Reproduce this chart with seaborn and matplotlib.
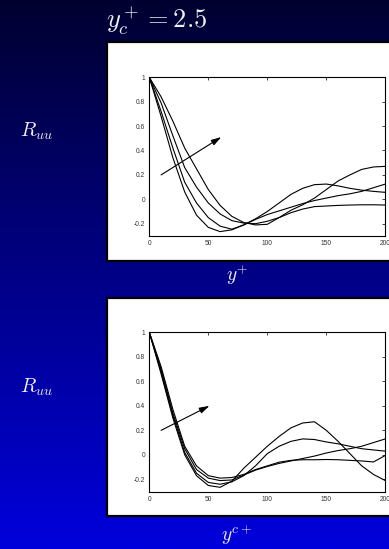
import numpy as np
import pandas as pd
import matplotlib
matplotlib.use("Agg")
import matplotlib.pyplot as plt
from matplotlib.patches import Rectangle
import seaborn as sns

sns.set_theme(style="white")
plt.rcParams["mathtext.fontset"] = "cm"
plt.rcParams["font.family"] = ["Liberation Sans", "DejaVu Sans"]

# separation in wall units
y_sep = [0, 10, 20, 30, 40, 50, 60, 70, 80, 90, 100,
         110, 120, 130, 140, 150, 160, 170, 180, 190, 200]

# R_uu versus y+ (four reference heights, arrow = increasing height)
ruu_yp_1 = [1.0, 0.68, 0.34, 0.06, -0.13, -0.23, -0.265, -0.25, -0.21, -0.16, -0.10,
            -0.03, 0.04, 0.09, 0.12, 0.125, 0.11, 0.09, 0.075, 0.065, 0.057]
ruu_yp_2 = [1.0, 0.72, 0.42, 0.14, -0.03, -0.15, -0.22, -0.245, -0.21, -0.165, -0.125,
            -0.095, -0.065, -0.035, -0.01, 0.01, 0.03, 0.045, 0.065, 0.095, 0.125]
ruu_yp_3 = [1.0, 0.79, 0.52, 0.26, 0.10, -0.03, -0.12, -0.175, -0.195, -0.20, -0.18,
            -0.15, -0.11, -0.08, -0.06, -0.055, -0.05, -0.047, -0.045, -0.045, -0.047]
ruu_yp_4 = [1.0, 0.84, 0.64, 0.42, 0.25, 0.08, -0.05, -0.14, -0.19, -0.21, -0.205,
            -0.15, -0.09, -0.045, 0.01, 0.08, 0.15, 0.20, 0.245, 0.265, 0.27]

# R_uu versus y^{c+}
ruu_yc_1 = [1.0, 0.66, 0.30, 0.0, -0.17, -0.25, -0.265, -0.215, -0.11, -0.02, 0.07,
            0.15, 0.22, 0.26, 0.27, 0.20, 0.11, 0.01, -0.09, -0.16, -0.21]
ruu_yc_2 = [1.0, 0.68, 0.32, 0.02, -0.15, -0.225, -0.24, -0.22, -0.17, -0.09, 0.01,
            0.07, 0.11, 0.13, 0.125, 0.105, 0.09, 0.07, 0.05, 0.04, 0.03]
ruu_yc_3 = [1.0, 0.70, 0.34, 0.05, -0.12, -0.19, -0.21, -0.205, -0.165, -0.125, -0.095,
            -0.07, -0.05, -0.03, -0.01, 0.015, 0.035, 0.05, 0.07, 0.10, 0.13]
ruu_yc_4 = [1.0, 0.72, 0.37, 0.07, -0.09, -0.17, -0.19, -0.185, -0.16, -0.12, -0.09,
            -0.06, -0.045, -0.04, -0.04, -0.038, -0.04, -0.045, -0.05, -0.058, -0.005]

x_ticks = [0, 50, 100, 150, 200]
y_ticks = [-0.2, 0, 0.2, 0.4, 0.6, 0.8, 1]
y_tick_labels = ["-0.2", "0", "0.2", "0.4", "0.6", "0.8", "1"]

title_text = r"$y_c^+ = 2.5$"
ylabel_text = r"$R_{uu}$"
xlabel_top = r"$y^{+}$"
xlabel_bottom = r"$y^{c+}$"

W, H = 389, 549
fig = plt.figure(figsize=(W / 100, H / 100), dpi=100)

# slide background: vertical navy-to-blue gradient
bg = fig.add_axes([0, 0, 1, 1], zorder=-10)
t = np.linspace(0, 1, 256)[:, None]
top = np.array([0x00, 0x00, 0x30]) / 255
bot = np.array([0x00, 0x00, 0xdc]) / 255
grad = (1 - t)[..., None] * top + t[..., None] * bot
grad = np.repeat(grad, 2, axis=1)
bg.imshow(grad, aspect="auto", extent=[0, 1, 0, 1], origin="upper")
bg.set_axis_off()


def fx(px):
    return px / W


def fy(py):
    return 1 - py / H


# white framed panels holding the plots
for (ptop, pbot) in [(42, 261), (298, 516)]:
    fig.patches.append(Rectangle((fx(107), fy(pbot)), fx(300), (pbot - ptop) / H,
                                 transform=fig.transFigure, facecolor="white",
                                 edgecolor="black", lw=1.6, zorder=0.5))


def draw(ax, curves, arrow):
    df = pd.DataFrame({
        "y": np.tile(y_sep, len(curves)),
        "R": np.concatenate(curves),
        "curve": np.repeat(np.arange(len(curves)), len(y_sep)),
    })
    sns.lineplot(data=df, x="y", y="R", hue="curve", palette=["black"] * len(curves),
                 legend=False, lw=0.8, ax=ax)
    ax.set_xlim(0, 200)
    ax.set_ylim(-0.3, 1.0)
    ax.set_xticks(x_ticks)
    ax.set_xticklabels([str(v) for v in x_ticks])
    ax.set_yticks(y_ticks)
    ax.set_yticklabels(y_tick_labels)
    ax.tick_params(direction="in", length=2.5, width=0.6, labelsize=4.8,
                   labelcolor="#333333", top=True, right=True, pad=3)
    for s in ax.spines.values():
        s.set_linewidth(0.8)
        s.set_color("black")
    ax.set_xlabel("")
    ax.set_ylabel("")
    ax.annotate("", xy=arrow[1], xytext=arrow[0],
                arrowprops=dict(arrowstyle="-|>,head_length=0.5,head_width=0.15",
                                color="black", lw=0.8, shrinkA=0, shrinkB=0))


ax1 = fig.add_axes([fx(149.3), fy(235.9), fx(236), 158.6 / H], zorder=1)
draw(ax1, [ruu_yp_1, ruu_yp_2, ruu_yp_3, ruu_yp_4], [(10, 0.2), (61, 0.51)])

ax2 = fig.add_axes([fx(149.3), fy(491.6), fx(236), 159.3 / H], zorder=1)
draw(ax2, [ruu_yc_1, ruu_yc_2, ruu_yc_3, ruu_yc_4], [(10, 0.2), (51, 0.40)])

txt = "#eeeef4"
fig.text(fx(106), fy(21), title_text, color=txt, fontsize=19, ha="left", va="center")
fig.text(fx(37), fy(131), ylabel_text, color=txt, fontsize=14.5, ha="center", va="center")
fig.text(fx(37), fy(387), ylabel_text, color=txt, fontsize=14.5, ha="center", va="center")
fig.text(fx(237), fy(275), xlabel_top, color=txt, fontsize=14, ha="center", va="center")
fig.text(fx(236), fy(535), xlabel_bottom, color=txt, fontsize=14, ha="center", va="center")

fig.savefig("out.png", dpi=100)
